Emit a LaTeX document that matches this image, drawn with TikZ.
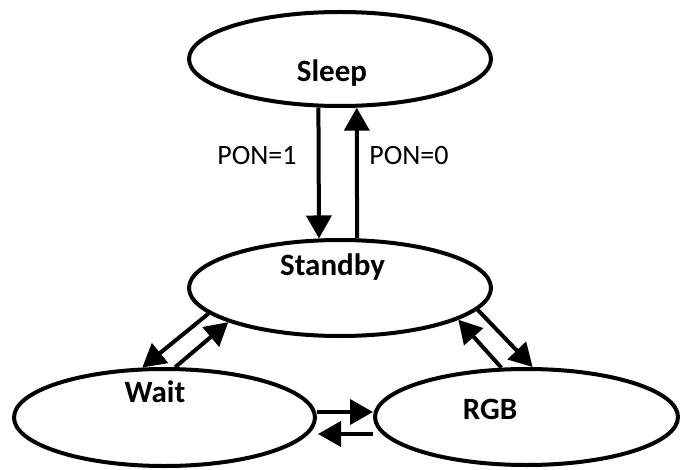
\documentclass[tikz,border=0pt]{standalone}
\usepackage{fontspec}
\setmainfont{Carlito}
\usetikzlibrary{shapes.geometric,arrows.meta}
\begin{document}
\begin{tikzpicture}[x=1pt,y=-1pt,
  state/.style={draw=black,line width=4pt,ellipse,minimum width=302pt,minimum height=96pt,inner sep=0pt},
  statelabel/.style={anchor=base,font=\bfseries\fontsize{31}{31}\selectfont,inner sep=0pt},
  cond/.style={anchor=base,font=\fontsize{28}{28}\selectfont,inner sep=0pt},
  arr/.style={line width=4pt,-{Triangle[width=25pt,length=23pt]}}]
\useasboundingbox (0,0) rectangle (687,470);

\node[state,minimum height=94pt] (sleep) at (340,59) {};
\node[state] (standby) at (340,288) {};
\node[state,minimum width=301pt,minimum height=97pt] (wait) at (164.5,417.5) {};
\node[state,minimum width=303pt] (rgb) at (526.5,417) {};

\node[statelabel] (sleeptxt) at (332,82) {Sleep};
\node[statelabel] (standbytxt) at (332.5,275) {Standby};
\node[statelabel] (waittxt) at (155,402) {Wait};
\node[statelabel] (rgbtxt) at (490,419) {RGB};

\node[cond] (pon1) at (257,165) {PON=1};
\node[cond] (pon0) at (409,165) {PON=0};

% Sleep <-> Standby
\draw[arr] (sleep.246.6) -- (standby.113);
\draw[arr] (standby.71.1) -- (sleep.289.25);

% Standby <-> Wait
\draw[arr] (standby.191.3) -- (wait.114.4);
\draw[arr] (wait.78.3) -- (standby.197.4);

% Standby <-> RGB
\draw[arr] (rgb.117) -- (standby.345.6);
\draw[arr] (standby.351.1) -- (rgb.83.7);

% Wait <-> RGB
\draw[arr] ([yshift=5.5pt]wait.east) -- ([yshift=5pt]rgb.west);
\draw[arr] ([yshift=-17pt]rgb.west) -- ([xshift=1pt,yshift=-16.5pt]wait.east);
\end{tikzpicture}
\end{document}
